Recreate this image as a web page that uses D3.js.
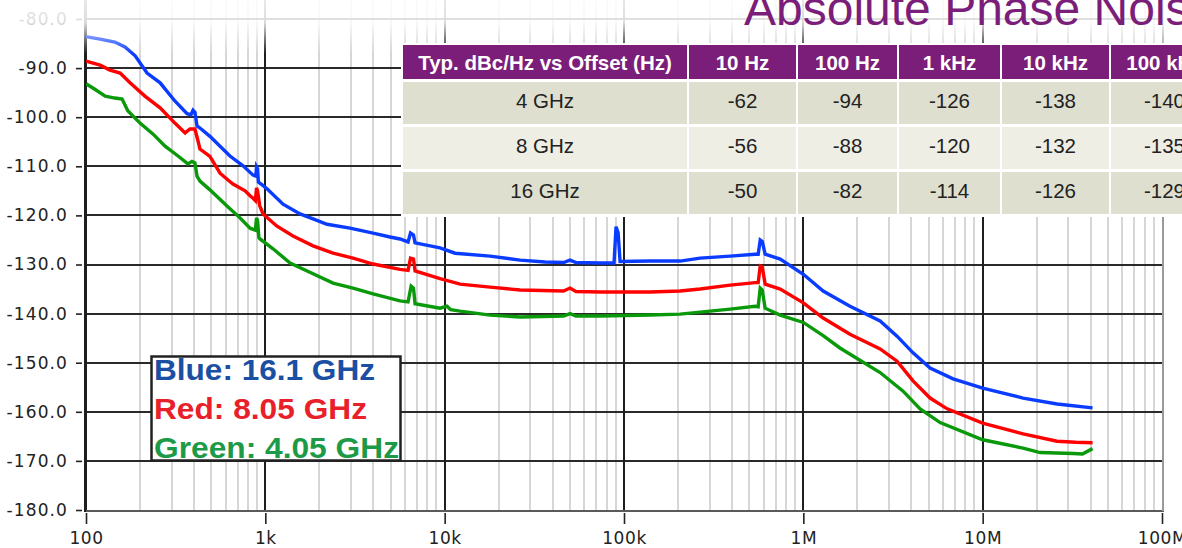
<!DOCTYPE html>
<html>
<head>
<meta charset="utf-8">
<script src="https://cdn.jsdelivr.net/npm/d3@7"></script>
<style>
body { margin: 0; background: #fff; }
svg { display: block; }
</style>
</head>
<body>
<svg width="1182" height="548"></svg>
<script>
var svg = d3.select("svg");
var width = +svg.attr("width");
var height = +svg.attr("height");

// Phase noise traces (offset in Hz, dBc/Hz)
var blueFreq = [100, 120, 145, 165, 188, 219, 259, 313, 366, 385, 395, 405, 416, 432, 491, 559, 635, 751, 854, 885,
    893, 905, 915, 960, 1022, 1255, 1562, 1845, 2208, 2966, 3988, 4955, 5637, 6251, 6450, 6700, 6839, 9423, 11430, 17910,
    26330, 36310, 46000, 50000, 54000, 73550, 88000, 90300, 92700, 95100, 139900, 205600, 265700, 390800, 538600,
    560000, 575000, 590000, 612400, 743000, 1e6, 1.29e6, 1.82e6, 2.68e6, 3.33e6, 4.09e6, 5.09e6, 6.84e6, 1e7, 1.68e7,
    2.6e7, 4.1e7];
var blueDb = [-83.6, -84.1, -84.7, -85.7, -87.5, -91, -93, -96.7, -99.3, -99.5, -98.6, -99.0, -101.8, -102.2, -103.9,
    -105.9, -107.9, -109.9, -111.8, -112, -110.1, -110.5, -113.2, -113.8, -114.6, -117.7, -119.7, -120.7, -121.8, -122.6,
    -123.6, -124.4, -124.8, -125.4, -123.6, -124.0, -125.6, -126.6, -127.7, -128.3, -129.1, -129.5, -129.6, -129.1,
    -129.6, -129.7, -129.7, -122.3, -123.5, -129.4, -129.3, -129.3, -128.7, -128.3, -127.9, -127.9, -125.0, -125.3,
    -127.9, -128.9, -132, -135.4, -138.5, -141.5, -144.6, -148, -151.1, -153.3, -155.2, -157.2, -158.4, -159.2];

var redFreq = [100, 120, 136, 155, 176, 213, 259, 313, 357, 380, 405, 421, 432, 491, 559, 619, 660, 771, 822, 854,
    880, 893, 905, 930, 971, 1162, 1427, 1845, 2386, 3083, 3988, 5637, 6251, 6450, 6700, 6839, 9423, 12190, 17910,
    26330, 46000, 50000, 54000, 73550, 139900, 205600, 265700, 390800, 538600, 560000, 575000, 590000, 612400, 743000,
    1e6, 1.29e6, 1.82e6, 2.68e6, 3.33e6, 4.09e6, 5.09e6, 6.34e6, 1e7, 1.68e7, 2.6e7, 3.3e7, 4.1e7];
var redDb = [-88.6, -89.4, -90.4, -91, -93, -95.7, -98.1, -101.2, -103.2, -102.4, -102.4, -104.8, -106.5, -108,
    -111.4, -112.8, -113.6, -115, -116, -116.5, -117, -114.4, -115, -118, -119.7, -122.2, -124.2, -126.2, -127.7, -128.7,
    -129.9, -131, -131.2, -128.7, -128.9, -131.3, -132.9, -134, -134.6, -135.2, -135.4, -134.8, -135.5, -135.6, -135.6,
    -135.4, -135, -134.2, -133.7, -133.7, -130.3, -130.5, -134, -135, -137.8, -140.9, -144.2, -147.2, -149.7, -153.7,
    -157.2, -159.4, -162.3, -164.5, -166, -166.2, -166.3];

var greenFreq = [100, 112, 128, 145, 159, 171, 200, 236, 276, 326, 370, 390, 405, 416, 432, 491, 611, 722, 822, 880,
    893, 905, 920, 934, 1104, 1374, 1845, 2386, 3083, 3988, 5637, 6251, 6500, 6700, 6839, 9423, 10300, 10800, 12190,
    17910, 26330, 46000, 50000, 54000, 73550, 139900, 205600, 265700, 390800, 538600, 560000, 575000, 590000, 612400,
    743000, 1e6, 1.29e6, 1.6e6, 2.68e6, 3.6e6, 4.48e6, 5.79e6, 1e7, 1.68e7, 2.09e7, 3.2e7, 3.6e7, 4.1e7];
var greenDb = [-93.2, -94.3, -95.7, -96.1, -96.3, -98.7, -101.2, -103.4, -105.9, -107.9, -109.5, -109, -109.3, -112,
    -113, -114.8, -118.1, -120.5, -122.6, -123, -120.5, -121, -124.5, -124.8, -126.8, -129.7, -131.9, -133.8, -134.8,
    -136, -137.4, -137.6, -134.4, -134.8, -138, -138.9, -138.5, -139.2, -139.5, -140.3, -140.7, -140.5, -140, -140.5,
    -140.5, -140.3, -140.1, -139.7, -139.1, -138.5, -138.6, -134.8, -135.2, -138.9, -140.3, -141.8, -144.5, -147, -152,
    -155.8, -159.4, -162.2, -165.7, -167.4, -168.3, -168.5, -168.6, -167.5];

// Axes
var yTicks = [-180, -170, -160, -150, -140, -130, -120, -110, -100, -90, -80];
var xTicks = [1e2, 1e3, 1e4, 1e5, 1e6, 1e7, 1e8];
var xTickLabels = ["100", "1k", "10k", "100k", "1M", "10M", "100M"];

// Legend and title
var legendLabels = ["Blue: 16.1 GHz", "Red: 8.05 GHz", "Green: 4.05 GHz"];
var title = "Absolute Phase Noise";

// Spec table
var tableHeader = ["Typ. dBc/Hz vs Offset (Hz)", "10 Hz", "100 Hz", "1 kHz", "10 kHz", "100 kHz"];
var tableRowLabels = ["4 GHz", "8 GHz", "16 GHz"];
var tableValues = [
    [-62, -94, -126, -138, -140],
    [-56, -88, -120, -132, -135],
    [-50, -82, -114, -126, -129]
];

var purple = "#7b1e7a";
var x = d3.scaleLog().domain([100, 1e8]).range([86, 1162]);
var y = d3.scaleLinear().domain([-180, -80]).range([510, 19]);
var plotLeft = 85, plotRight = 1163, plotBottom = 511;

var defs = svg.append("defs");
defs.append("clipPath").attr("id", "plot-clip")
    .append("rect")
    .attr("x", plotLeft).attr("y", 0)
    .attr("width", plotRight - plotLeft).attr("height", plotBottom);

var fade = defs.append("linearGradient")
    .attr("id", "top-fade")
    .attr("gradientUnits", "userSpaceOnUse")
    .attr("x1", 0).attr("x2", 0).attr("y1", 0).attr("y2", 54);
fade.append("stop").attr("offset", 0).attr("stop-color", "#fff").attr("stop-opacity", 0.9);
fade.append("stop").attr("offset", 0.42).attr("stop-color", "#fff").attr("stop-opacity", 0.84);
fade.append("stop").attr("offset", 0.68).attr("stop-color", "#fff").attr("stop-opacity", 0.45);
fade.append("stop").attr("offset", 1).attr("stop-color", "#fff").attr("stop-opacity", 0);

// grid
var grid = svg.append("g");
var allTicks = x.ticks();
var minor = allTicks.filter(function(d) {
    return Math.abs(Math.log10(d) - Math.round(Math.log10(d))) > 1e-6;
});

grid.selectAll("line.minor")
    .data(minor)
    .enter()
    .append("line")
    .attr("class", "minor")
    .attr("x1", function(d) { return Math.round(x(d)); })
    .attr("x2", function(d) { return Math.round(x(d)); })
    .attr("y1", 0)
    .attr("y2", plotBottom)
    .style("stroke", "#d6d6d6")
    .style("stroke-width", 2);

grid.selectAll("line.hmajor")
    .data(yTicks.slice(1))
    .enter()
    .append("line")
    .attr("class", "hmajor")
    .attr("x1", plotLeft)
    .attr("x2", plotRight)
    .attr("y1", function(d) { return Math.round(y(d)); })
    .attr("y2", function(d) { return Math.round(y(d)); })
    .style("stroke", "#2a2a2a")
    .style("stroke-width", 2);

grid.selectAll("line.vmajor")
    .data(xTicks.slice(0, 6))
    .enter()
    .append("line")
    .attr("class", "vmajor")
    .attr("x1", function(d) { return Math.round(x(d)); })
    .attr("x2", function(d) { return Math.round(x(d)); })
    .attr("y1", 0)
    .attr("y2", plotBottom)
    .style("stroke", "#1e1e1e")
    .style("stroke-width", 2);

// frame: bottom and right edges are lighter
grid.append("line")
    .attr("x1", plotLeft).attr("x2", plotRight + 1)
    .attr("y1", plotBottom).attr("y2", plotBottom)
    .style("stroke", "#5a5a5a").style("stroke-width", 2);
grid.append("line")
    .attr("x1", plotRight).attr("x2", plotRight)
    .attr("y1", 0).attr("y2", plotBottom)
    .style("stroke", "#9a9a9a").style("stroke-width", 2);

// traces
var line = d3.line()
    .x(function(d) { return x(d[0]); })
    .y(function(d) { return y(d[1]); });

var series = [
    { freq: greenFreq, db: greenDb, color: "#0a990a" },
    { freq: redFreq, db: redDb, color: "#ff0000" },
    { freq: blueFreq, db: blueDb, color: "#0a3cff" }
];

svg.append("g")
    .attr("clip-path", "url(#plot-clip)")
    .selectAll("path")
    .data(series)
    .enter()
    .append("path")
    .attr("d", function(d) { return line(d3.zip(d.freq, d.db)); })
    .style("fill", "none")
    .style("stroke", function(d) { return d.color; })
    .style("stroke-width", 3.4)
    .style("stroke-linejoin", "miter");

// axes
var yAxis = svg.append("g")
    .attr("transform", "translate(82,0)")
    .call(d3.axisLeft(y)
        .tickValues(yTicks)
        .tickSize(6)
        .tickPadding(8)
        .tickFormat(function(d) { return d.toFixed(1); }));
yAxis.select(".domain").remove();

var xAxis = svg.append("g")
    .attr("transform", "translate(0,513)")
    .call(d3.axisBottom(x)
        .tickValues(xTicks)
        .tickSize(11)
        .tickPadding(8)
        .tickFormat(function(d, i) { return xTickLabels[i]; }));
xAxis.select(".domain").remove();

svg.selectAll(".tick line")
    .style("stroke", "#222")
    .style("stroke-width", 1.6);
svg.selectAll(".tick text")
    .style("font-family", "'DejaVu Sans', Verdana, sans-serif")
    .style("font-size", "17px")
    .style("letter-spacing", "0.6px")
    .style("fill", "#222");
yAxis.selectAll(".tick text").style("letter-spacing", "1.1px");

// left axis line
svg.append("line")
    .attr("x1", plotLeft).attr("x2", plotLeft)
    .attr("y1", 0).attr("y2", plotBottom + 1)
    .style("stroke", "#1e1e1e").style("stroke-width", 2);

// legend box
var legendColors = ["#1b4fa3", "#e8202a", "#1d9a48"];
var legendWidths = [221, 213, 245];
var legend = svg.append("g");
legend.append("rect")
    .attr("x", 151.5).attr("y", 356.5)
    .attr("width", 249).attr("height", 104)
    .style("fill", "#fff")
    .style("stroke", "#222")
    .style("stroke-width", 2.5);
legend.selectAll("text")
    .data(legendLabels)
    .enter()
    .append("text")
    .attr("x", 154)
    .attr("y", function(d, i) { return 380 + i * 39; })
    .attr("textLength", function(d, i) { return legendWidths[i]; })
    .attr("lengthAdjust", "spacingAndGlyphs")
    .text(function(d) { return d; })
    .style("font-family", "'Liberation Sans', Arial, sans-serif")
    .style("font-weight", "bold")
    .style("font-size", "29.5px")
    .style("fill", function(d, i) { return legendColors[i]; });

// washed out strip at the top of the picture
svg.append("rect")
    .attr("x", 0).attr("y", 0)
    .attr("width", width).attr("height", 54)
    .style("fill", "url(#top-fade)");

// table
var colX = [403, 689, 798, 899, 1002, 1111];
var colW = [284, 107, 99, 101, 107, 107];
var rowY = [82, 127, 172];
var rowFill = ["#dfdfcf", "#eeeee5", "#dfdfcf"];

var table = svg.append("g");
table.append("rect")
    .attr("x", 401).attr("y", 43)
    .attr("width", width - 401).attr("height", 174)
    .style("fill", "#fff");

table.selectAll("rect.head")
    .data(tableHeader)
    .enter()
    .append("rect")
    .attr("class", "head")
    .attr("x", function(d, i) { return colX[i]; })
    .attr("y", 45)
    .attr("width", function(d, i) { return colW[i]; })
    .attr("height", 34)
    .style("fill", purple);

table.selectAll("text.head")
    .data(tableHeader)
    .enter()
    .append("text")
    .attr("class", "head")
    .attr("x", function(d, i) { return colX[i] + colW[i] / 2; })
    .attr("y", 70)
    .attr("text-anchor", "middle")
    .text(function(d) { return d; })
    .style("font-family", "'Liberation Sans', Arial, sans-serif")
    .style("font-weight", "bold")
    .style("font-size", "20.5px")
    .style("fill", "#fff");

var rows = table.selectAll("g.row")
    .data(tableRowLabels)
    .enter()
    .append("g")
    .attr("class", "row");

rows.each(function(label, r) {
    var cells = [label].concat(tableValues[r]);
    var g = d3.select(this);
    g.selectAll("rect")
        .data(cells)
        .enter()
        .append("rect")
        .attr("x", function(d, i) { return colX[i]; })
        .attr("y", rowY[r])
        .attr("width", function(d, i) { return colW[i]; })
        .attr("height", 42)
        .style("fill", rowFill[r]);
    g.selectAll("text")
        .data(cells)
        .enter()
        .append("text")
        .attr("x", function(d, i) { return colX[i] + colW[i] / 2; })
        .attr("y", rowY[r] + 25.5)
        .attr("text-anchor", "middle")
        .text(function(d) { return String(d); })
        .style("font-family", "'Liberation Sans', Arial, sans-serif")
        .style("font-size", "20.5px")
        .style("fill", "#222");
});

// title, cut off by the top and right edges
svg.append("text")
    .attr("x", 744)
    .attr("y", 25)
    .text(title)
    .style("font-family", "'Liberation Sans', Arial, sans-serif")
    .style("font-size", "48px")
    .style("fill", purple);
</script>
</body>
</html>
